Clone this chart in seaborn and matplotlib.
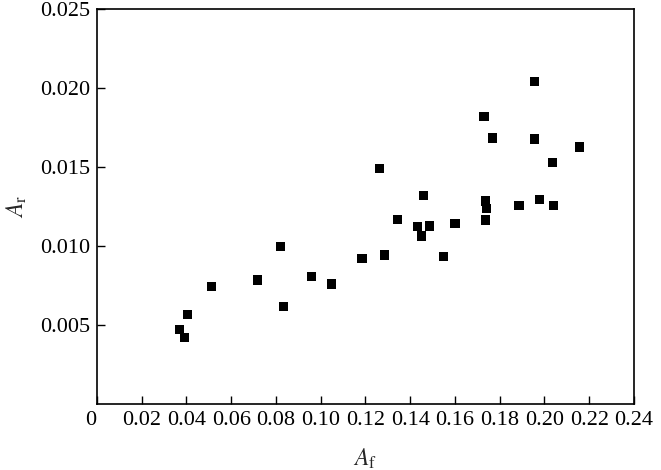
import numpy as np
import pandas as pd
import matplotlib
matplotlib.use("Agg")
import matplotlib.pyplot as plt
import matplotlib.transforms as mtransforms
import seaborn as sns

# values
a_f = [0.0368, 0.0390, 0.0405, 0.0512, 0.0718, 0.0821, 0.0833, 0.0960,
       0.1049, 0.1184, 0.1284, 0.1548, 0.1262, 0.1459, 0.1342, 0.1433,
       0.1485, 0.1600, 0.1451, 0.1736, 0.1740, 0.1736, 0.1887, 0.1977,
       0.2040, 0.1955, 0.1730, 0.1767, 0.1956, 0.2156, 0.2037]
a_r = [0.00473, 0.00420, 0.00568, 0.00745, 0.00785, 0.00996, 0.00618, 0.00806,
       0.00760, 0.00922, 0.00943, 0.00934, 0.01491, 0.01320, 0.01169, 0.01124,
       0.01127, 0.01143, 0.01063, 0.01165, 0.01236, 0.01285, 0.01257, 0.01295,
       0.01257, 0.02042, 0.01821, 0.01684, 0.01677, 0.01627, 0.01530]

x_ticks = [0, 0.02, 0.04, 0.06, 0.08, 0.10, 0.12, 0.14, 0.16, 0.18, 0.20, 0.22, 0.24]
x_labels = ["0", "0.02", "0.04", "0.06", "0.08", "0.10", "0.12", "0.14",
            "0.16", "0.18", "0.20", "0.22", "0.24"]
y_ticks = [0.005, 0.010, 0.015, 0.020, 0.025]
y_labels = ["0.005", "0.010", "0.015", "0.020", "0.025"]

sns.set_theme(style="ticks")
plt.rcParams["font.family"] = ["Liberation Serif", "DejaVu Serif"]
plt.rcParams["mathtext.fontset"] = "stix"

df = pd.DataFrame({"Af": a_f, "Ar": a_r})

fig, ax = plt.subplots(figsize=(6.61, 4.70), dpi=100)
fig.subplots_adjust(left=0.1467, right=0.959, top=0.981, bottom=0.1404)

sns.scatterplot(data=df, x="Af", y="Ar", marker="s", color="black",
                s=45, edgecolor="none", ax=ax)

ax.set_xlim(0, 0.24)
ax.set_ylim(0, 0.025)
ax.set_xticks(x_ticks)
ax.set_xticklabels(x_labels)
ax.set_yticks(y_ticks)
ax.set_yticklabels(y_labels)
ax.tick_params(direction="in", length=6, width=1, labelsize=16, colors="black",
               top=False, right=False, pad=5)
for sp in ax.spines.values():
    sp.set_visible(True)
    sp.set_linewidth(1.2)
    sp.set_color("black")

# the "0" sits a little left of its tick in the original
zero = ax.get_xticklabels()[0]
zero.set_transform(zero.get_transform() +
                   mtransforms.ScaledTranslation(-6 / 100, 0, fig.dpi_scale_trans))

ax.set_xlabel(r"$A_{\mathrm{f}}$", fontsize=17, labelpad=12)
ax.set_ylabel(r"$A_{\mathrm{r}}$", fontsize=17, labelpad=8)

fig.savefig("out.png", dpi=100)
